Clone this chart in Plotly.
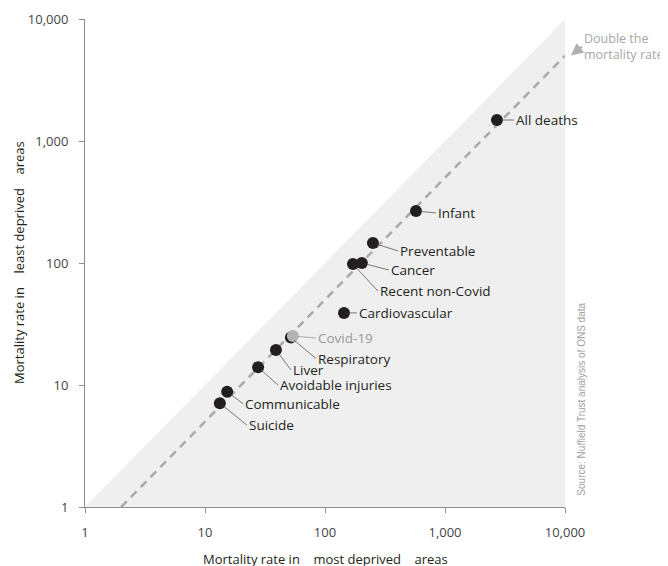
import math
import plotly.graph_objects as go

# ---- data ----
causes = ["All deaths", "Infant", "Preventable", "Cancer", "Recent non-Covid",
          "Cardiovascular", "Respiratory", "Covid-19", "Liver", "Avoidable injuries",
          "Communicable", "Suicide"]
most_deprived = [2710, 573, 251, 203, 171, 144, 52, 54, 39, 27.7, 15.3, 13.3]
least_deprived = [1486, 267, 146, 100, 98, 39, 24.5, 25.2, 19.4, 14.0, 8.8, 7.1]
highlight = [False, False, False, False, False, False, False, True, False, False, False, False]
# label offsets in pixels (text left edge relative to point)
label_dx = [17, 20, 25, 27, 25, 13, 25, 23, 15, 20, 16, 27]
label_dy = [0, 2, 8, 7, 27, 0, 21, 2, 20, 18, 12, 22]

axis_min, axis_max = 1, 10000
ratio_line = 2  # double the mortality rate
tick_vals = [1, 10, 100, 1000, 10000]
tick_text = ["1", "10", "100", "1,000", "10,000"]

FONT = "Open Sans"
DARK = "#231f20"
GREY_TEXT = "#a6a6a6"

fig = go.Figure()

# shaded triangle below y = x
fig.add_trace(go.Scatter(
    x=[axis_min, axis_max, axis_max, axis_min],
    y=[axis_min, axis_max, axis_min, axis_min],
    fill="toself", fillcolor="#efefef", line=dict(width=0),
    mode="lines", hoverinfo="skip", showlegend=False))

# dashed line y = x / 2
fig.add_trace(go.Scatter(
    x=[ratio_line * axis_min, axis_max],
    y=[axis_min, axis_max / ratio_line],
    mode="lines", line=dict(color="#a9a9a9", width=2.5, dash="8px,6px"),
    hoverinfo="skip", showlegend=False))

colors = ["#b3b3b3" if h else DARK for h in highlight]
fig.add_trace(go.Scatter(
    x=most_deprived, y=least_deprived, mode="markers",
    marker=dict(size=12, color=colors, line=dict(width=0)),
    text=causes, hoverinfo="text", showlegend=False))

annotations = []
for name, xv, yv, dx, dy, h in zip(causes, most_deprived, least_deprived, label_dx, label_dy, highlight):
    col = "#999999" if h else DARK
    annotations.append(dict(
        x=math.log10(xv), y=math.log10(yv),
        xref="x", yref="y", text=name, showarrow=True,
        ax=dx, ay=dy, axref="pixel", ayref="pixel",
        xanchor="left", yanchor="middle",
        arrowhead=0, arrowwidth=0.8, arrowcolor="#999999" if h else "#555555",
        standoff=5, font=dict(family=FONT, size=13.5, color=col)))

# "Double the mortality rate" note with a short arrow pointing at the dashed line end
annotations.append(dict(
    x=1.0, y=0.925, xref="paper", yref="paper", xshift=6,
    text="Double the<br>mortality rate", showarrow=True,
    ax=11, ay=-9, axref="pixel", ayref="pixel",
    xanchor="left", yanchor="middle", align="left",
    arrowhead=2, arrowsize=1.1, arrowwidth=2.2, arrowcolor="#b0b0b0", standoff=0,
    font=dict(family=FONT, size=12.5, color=GREY_TEXT)))

# source
annotations.append(dict(
    x=1.0, y=0.22, xref="paper", yref="paper", xshift=17,
    text="Source: Nuffield Trust analysis of ONS data", showarrow=False,
    textangle=-90, font=dict(family="Liberation Sans", size=10, color="#a0a0a0"),
    xanchor="center", yanchor="middle"))

# axis titles
annotations.append(dict(
    x=0.5, y=0, xref="paper", yref="paper", yshift=-52,
    text="Mortality rate in    most deprived    areas", showarrow=False,
    font=dict(family=FONT, size=13, color=DARK), xanchor="center", yanchor="middle"))
annotations.append(dict(
    x=0, y=0.5, xref="paper", yref="paper", xshift=-66,
    text="Mortality rate in    least deprived    areas", showarrow=False, textangle=-90,
    font=dict(family=FONT, size=13, color=DARK), xanchor="center", yanchor="middle"))

axis_common = dict(
    type="log", range=[0, 4], tickvals=tick_vals, ticktext=tick_text,
    showgrid=False, zeroline=False, showline=True, linecolor="#8c8c8c", linewidth=1,
    ticks="outside", ticklen=5, tickcolor="#8c8c8c", automargin=False,
    tickfont=dict(family=FONT, size=13, color="#444444"))

# page body has an 8px margin, so the figure is drawn 8px smaller and shifted
fig.update_layout(
    width=660, height=558,
    margin=dict(l=77, r=103, t=11, b=59, autoexpand=False),
    paper_bgcolor="white", plot_bgcolor="white",
    xaxis=dict(**axis_common),
    yaxis=dict(**axis_common),
    annotations=annotations,
    showlegend=False)
fig.update_xaxes(ticklabelstandoff=8)
fig.update_yaxes(ticklabelstandoff=8)

fig.write_html("out.html")
